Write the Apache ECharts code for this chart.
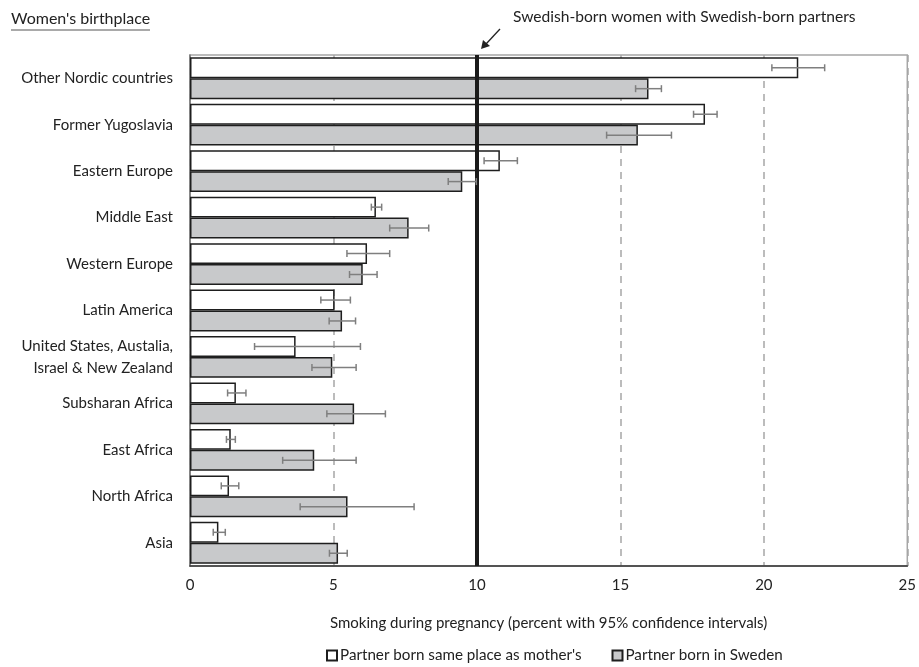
<!DOCTYPE html>
<html><head><meta charset="utf-8">
<script src="https://cdn.jsdelivr.net/npm/echarts@6/dist/echarts.min.js"></script>
<style>html,body{margin:0;padding:0;background:#fff}#c{width:919px;height:667px}</style>
</head><body><div id="c"></div>
<script>
const categories = ['Other Nordic countries','Former Yugoslavia','Eastern Europe','Middle East','Western Europe','Latin America','United States, Austalia,\nIsrael & New Zealand','Subsharan Africa','East Africa','North Africa','Asia'];
const sameVals = [21.2,17.95,10.8,6.48,6.17,5.04,3.68,1.6,1.42,1.36,0.99];
const sameLow  = [20.28,17.55,10.25,6.32,5.47,4.56,2.25,1.31,1.27,1.09,0.81];
const sameHigh = [22.12,18.37,11.41,6.68,6.96,5.59,5.94,1.95,1.58,1.70,1.23];
const swedVals = [15.98,15.61,9.49,7.62,6.02,5.30,4.96,5.72,4.33,5.49,5.16];
const swedLow  = [15.53,14.52,9.0,6.96,5.56,4.85,4.25,4.77,3.23,3.84,4.86];
const swedHigh = [16.43,16.78,9.98,8.32,6.52,5.77,5.79,6.81,5.79,7.81,5.48];
const referenceValue = 10;
const seriesNames = ["Partner born same place as mother's", 'Partner born in Sweden'];

const FONT = 'Lato';
const chart = echarts.init(document.getElementById('c'), null, {renderer:'canvas'});
const CAT_GAP = 0.10;

function errRender(sign){
  return function(params, api){
    const i = api.value(0);
    const lo = api.coord([api.value(1), i]);
    const hi = api.coord([api.value(2), i]);
    const band = api.size([0,1])[1];
    const bw = band*(1-CAT_GAP)/2;
    const y = lo[1] + sign*bw/2;
    const c = 3.5;
    const st = {stroke:'#7f7f7f', lineWidth:1.5};
    return {type:'group', children:[
      {type:'line', shape:{x1:lo[0],y1:y,x2:hi[0],y2:y}, style:st},
      {type:'line', shape:{x1:lo[0],y1:y-c,x2:lo[0],y2:y+c}, style:st},
      {type:'line', shape:{x1:hi[0],y1:y-c,x2:hi[0],y2:y+c}, style:st}
    ]};
  };
}

const option = {
  animation:false,
  textStyle:{fontFamily:FONT},
  grid:{left:190, right:6, top:55, bottom:101, show:true, borderColor:'#a6a6a6', borderWidth:1.5},
  xAxis:{type:'value', min:0, max:25, interval:5,
    axisLine:{show:true, lineStyle:{color:'#333', width:1.5}},
    axisTick:{show:false},
    axisLabel:{color:'#222', fontSize:15, fontFamily:FONT, margin:12},
    splitLine:{show:true, lineStyle:{color:'#a6a6a6', type:[7,6], width:1.5}},
    name:'Smoking during pregnancy (percent with 95% confidence intervals)',
    nameLocation:'middle', nameGap:50,
    nameTextStyle:{color:'#222', fontSize:15, fontFamily:FONT}
  },
  yAxis:{type:'category', data:categories, inverse:true,
    axisLine:{show:true, lineStyle:{color:'#777', width:1.5}},
    axisTick:{show:false},
    axisLabel:{color:'#222', fontSize:15, fontFamily:FONT, margin:17, lineHeight:22, align:'right'}
  },
  legend:{bottom:-1, left:321, itemWidth:10, itemHeight:10, itemGap:30, icon:'rect',
    textStyle:{color:'#222', fontSize:15.2, fontFamily:FONT, padding:[0,0,0,-2]},
    data:seriesNames},
  series:[
    {name:seriesNames[0], type:'bar', data:sameVals, barGap:'0%', barCategoryGap:(CAT_GAP*100)+'%',
     itemStyle:{color:'#ffffff', borderColor:'#1e1e1e', borderWidth:1.5}, z:3},
    {name:seriesNames[1], type:'bar', data:swedVals, barGap:'0%', barCategoryGap:(CAT_GAP*100)+'%',
     itemStyle:{color:'#c8c9cb', borderColor:'#1e1e1e', borderWidth:1.5}, z:3},
    {type:'custom', renderItem:errRender(-1), z:5,
     data:categories.map((c,i)=>[i, sameLow[i], sameHigh[i]]), encode:{x:[1,2], y:0}, silent:true},
    {type:'custom', renderItem:errRender(1), z:6,
     data:categories.map((c,i)=>[i, swedLow[i], swedHigh[i]]), encode:{x:[1,2], y:0}, silent:true,
     markLine:{silent:true, symbol:'none', label:{show:false},
       lineStyle:{color:'#1a1a1a', width:4, type:'solid'},
       data:[{xAxis:referenceValue}]}}
  ],
  graphic:[
    {type:'text', left:11, top:11, style:{text:"Women's birthplace", fill:'#222', font:'16px '+FONT}},
    {type:'line', shape:{x1:11,y1:30,x2:150,y2:30}, style:{stroke:'#555', lineWidth:1}},
    {type:'text', left:513, top:9, style:{text:'Swedish-born women with Swedish-born partners', fill:'#222', font:'15.6px '+FONT}},
    {type:'line', shape:{x1:500,y1:29,x2:486,y2:44}, style:{stroke:'#222', lineWidth:1.3}},
    {type:'polygon', shape:{points:[[481,49],[483,40],[490,46]]}, style:{fill:'#222'}}
  ]
};
chart.setOption(option);
</script></body></html>
